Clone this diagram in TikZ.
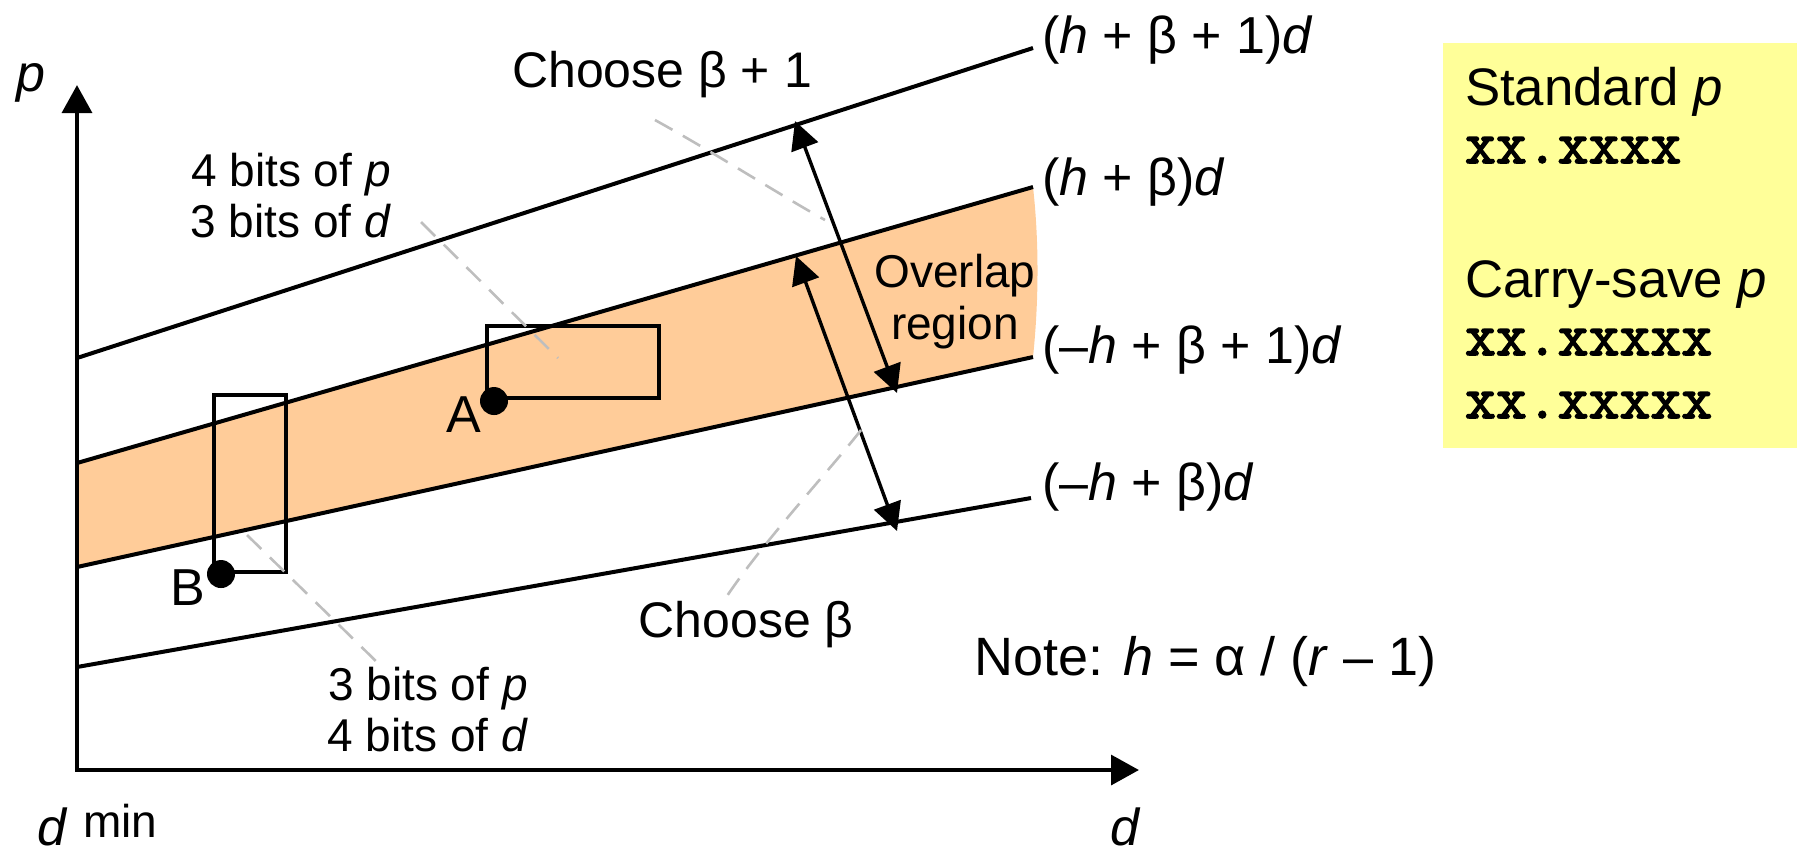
\documentclass[tikz,border=0pt]{standalone}
\usepackage{fontspec}
\setmainfont{Liberation Sans}
\newfontfamily\bitsmono{Latin Modern Mono}[FakeBold=2.5]
\usetikzlibrary{arrows.meta}

\definecolor{bandorange}{RGB}{255,204,153}
\definecolor{noteyellow}{RGB}{255,255,153}
\definecolor{leadergray}{RGB}{190,190,190}

\tikzset{every picture/.style={line width=1pt}}
\tikzset{
  axis/.style={line width=1.15pt,line join=miter,{Triangle[length=7pt,width=7.4pt]}-{Triangle[length=7pt,width=7.4pt]}},
  dblarrow/.style={line width=0.85pt,{Triangle[length=7pt,width=7pt]}-{Triangle[length=7pt,width=7pt]}},
  leader/.style={draw=leadergray,line width=0.65pt,dash pattern={on 5pt off 3pt}},
  lbl/.style={inner sep=0pt,font=\fontsize{13}{15}\selectfont},
  midlbl/.style={inner sep=0pt,font=\fontsize{12.5}{15}\selectfont},
  twoline/.style={inner sep=0pt,align=center,font=\fontsize{11.5}{12.75}\selectfont},
  boxtxt/.style={inner sep=0pt,anchor=base west,font=\fontsize{13.2}{15}\selectfont},
  boxbits/.style={inner sep=0pt,anchor=base west,font=\fontsize{15}{17}\bitsmono},
  dot/.style={circle,fill=black,inner sep=0pt,minimum size=7pt},
}

\begin{document}
\begin{tikzpicture}[x=0.25pt,y=0.25pt,yscale=-1,xscale=1]
\useasboundingbox (0,0) rectangle (1797,851);

%Shape: Rectangle
\fill [noteyellow] (1443,43) rectangle (1797,448);

% end points of the four bounds
\coordinate (upA) at (77,358);  \coordinate (upB) at (1033,48);
\coordinate (hbA) at (77,463);  \coordinate (hbB) at (1033,187);
\coordinate (lbA) at (77,567);  \coordinate (lbB) at (1033,357);
\coordinate (loA) at (77,667);  \coordinate (loB) at (1031,498);

%Shape: Polygon (overlap band)
\fill [bandorange] (hbA) -- (hbB) .. controls (1039,240) and (1039,300) .. (lbB) -- (lbA) -- cycle;

%Straight Lines
\draw (upA) -- (upB);
\draw (hbA) -- (hbB);
\draw (lbA) -- (lbB);
\draw (loA) -- (loB);

%Shape: Rectangle
\draw (487,326) rectangle (659,398);
%Shape: Rectangle
\draw (214,395) rectangle (286,572);
%Shape: Circle
\node [dot] (ptA) at (494,401) {};
%Shape: Circle
\node [dot] (ptB) at (221,574) {};

%Straight Lines (axes)
\coordinate (org) at (77,770);
\coordinate (ptop) at (77,85);
\coordinate (dend) at (1139,770);
\draw [axis] (ptop) -- (org) -- (dend);

%Straight Lines (double arrows)
\coordinate (a1t) at (795,121);  \coordinate (a1b) at (897,393);
\coordinate (a2t) at (796,256);  \coordinate (a2b) at (897,531);
\draw [dblarrow] (a1t) -- (a1b);
\draw [dblarrow] (a2t) -- (a2b);

% Text Node
\node [lbl,anchor=base west] (lblUp) at (1040,53) {(\textit{h} + β + 1)\textit{d}};
% Text Node
\node [lbl,anchor=base west] (lblHb) at (1040,195) {(\textit{h} + β)\textit{d}};
% Text Node
\node [lbl,anchor=base west] (lblLb) at (1040,363) {(–\textit{h} + β + 1)\textit{d}};
% Text Node
\node [lbl,anchor=base west] (lblLo) at (1040,500) {(–\textit{h} + β)\textit{d}};

% Text Node
\node [midlbl,anchor=base] (chooseUp) at (662,87) {Choose β + 1};
% Text Node
\node [midlbl,anchor=base] (chooseLo) at (746,637) {Choose β};
% Text Node
\node [twoline] (bitsUp) at (291,196) {4 bits of \textit{p}\\3 bits of \textit{d}};
% Text Node
\node [twoline] (bitsLo) at (428,710) {3 bits of \textit{p}\\4 bits of \textit{d}};
% Text Node
\node [inner sep=0pt,align=center,font=\fontsize{11.5}{13}\selectfont] (overlap) at (955,302) {Overlap\\region};
% Text Node
\node [lbl,anchor=base] (lblA) at (464,432) {A};
% Text Node
\node [lbl,anchor=base] (lblB) at (188,605) {B};
% Text Node
\node [inner sep=0pt,anchor=base west,font=\fontsize{13.5}{16}\selectfont] (note) at (972,675) {Note: \textit{h} = α / (\textit{r} – 1)};
% Text Node
\node [lbl,anchor=base] (axP) at (31,91) {\textit{p}};
% Text Node
\node [lbl,anchor=base] (axD) at (1126,845) {\textit{d}};
% Text Node
\node [lbl,anchor=base west] (dmin) at (35,845) {\textit{d}\hspace{4pt}\raisebox{2pt}{\fontsize{11.5}{13}\selectfont min}};

% Text Node
\node [boxtxt] (stdHead) at (1463,105) {Standard \textit{p}};
\node [boxbits] (stdBits) at (1463,163) {xx.xxxx};
\node [boxtxt] (csHead) at (1463,297) {Carry-save \textit{p}};
\node [boxbits] (csBitsA) at (1463,355) {xx.xxxxx};
\node [boxbits] (csBitsB) at (1463,418) {xx.xxxxx};

%Straight Lines (leaders)
\coordinate (ldA) at (421,222);  \coordinate (ldAe) at (558,358);
\coordinate (ldC) at (655,120);  \coordinate (ldCe) at (825,220);
\coordinate (ldB) at (247,535);  \coordinate (ldBe) at (382,667);
\coordinate (ldD) at (861,430);  \coordinate (ldDe) at (723,602);
\draw [leader] (ldA) -- (ldAe);
\draw [leader] (ldC) .. controls (720,156) and (780,195) .. (ldCe);
\draw [leader] (ldB) -- (ldBe);
\draw [leader] (ldD) .. controls (830,470) and (760,545) .. (ldDe);

\end{tikzpicture}
\end{document}
